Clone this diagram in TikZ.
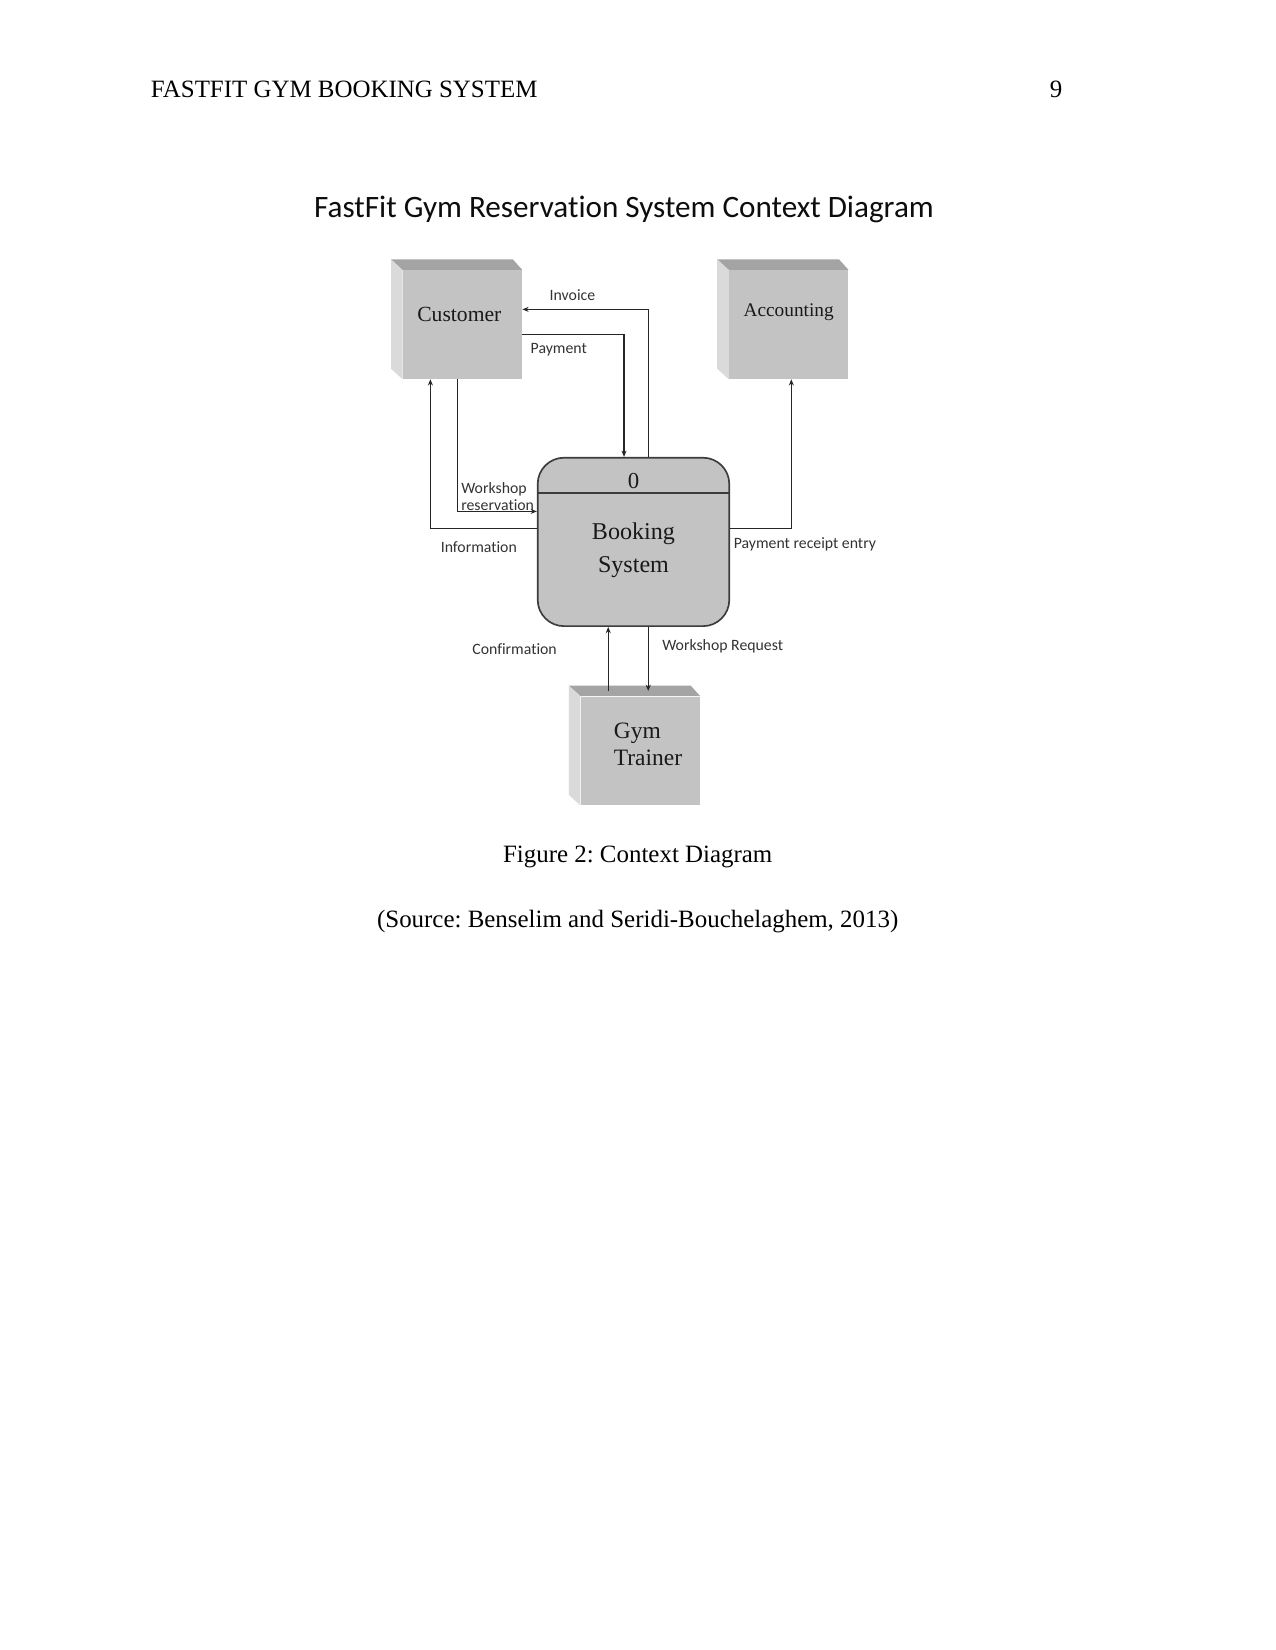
\documentclass[tikz,border=0pt,12pt]{standalone}
\usepackage{fontspec}
\setmainfont{Liberation Serif}
\newfontfamily\labelfont[Ligatures=NoCommon]{Carlito}
\usepackage{xcolor}
\usetikzlibrary{arrows.meta}
\frenchspacing
\definecolor{frontgray}{HTML}{C3C3C3}
\definecolor{topgray}{HTML}{A4A4A4}
\definecolor{sidegray}{HTML}{DADADA}
\definecolor{edgegray}{HTML}{3C3C3C}
\tikzset{
  entity/.style={rectangle,fill=frontgray,inner sep=0pt,minimum width=2.013cm,minimum height=1.835cm},
  topface/.style={fill=topgray},
  sideface/.style={fill=sidegray},
  process/.style={rectangle,rounded corners=0.445cm,draw=edgegray,line width=0.8pt,fill=frontgray,minimum width=3.242cm,minimum height=2.850cm},
  flow/.style={draw=black!85,line width=0.55pt,-{Stealth[length=3pt,width=2.4pt]}},
  flowlabel/.style={font=\labelfont\fontsize{7.6}{8.1}\selectfont,text=black!80,inner sep=0pt},
  boxtext/.style={text=black!90,inner sep=0pt}
}

\begin{document}
\begin{tikzpicture}[x=0.0178135cm,y=-0.0178135cm]
\useasboundingbox (0,0) rectangle (1212,1568);
% header and title
\node[anchor=base west,inner sep=0pt,font=\fontsize{12}{14}\selectfont] (head) at (143,93) {FASTFIT GYM BOOKING SYSTEM};
\node[anchor=base east,inner sep=0pt,font=\fontsize{12}{14}\selectfont] (pagenum) at (1010,93) {9};
\node[font=\labelfont\fontsize{15}{18}\selectfont,text=black!95,inner sep=0pt] (title) at (593,199) {FastFit Gym Reservation System Context Diagram};

% external entities
\node[entity] (cust) at (439.5,308.5) {};
\fill[topface] (cust.north west) -- ++(-11,-10) -- ([shift={(-9,-10)}]cust.north east) -- (cust.north east) -- cycle;
\fill[sideface] (cust.north west) -- ++(-11,-10) -- ([shift={(-11,-10)}]cust.south west) -- (cust.south west) -- cycle;
\node[boxtext,font=\fontsize{10.4}{12}\selectfont] (custname) at ([shift={(-3,-10)}]cust.center) {Customer};

\node[entity] (acct) at (749.5,308.5) {};
\fill[topface] (acct.north west) -- ++(-11,-10) -- ([shift={(-9,-10)}]acct.north east) -- (acct.north east) -- cycle;
\fill[sideface] (acct.north west) -- ++(-11,-10) -- ([shift={(-11,-10)}]acct.south west) -- (acct.south west) -- cycle;
\node[boxtext,font=\fontsize{9.3}{11}\selectfont] (acctname) at ([shift={(0,-12)}]acct.center) {Accounting};

\node[entity] (gym) at (608.5,713.5) {};
\fill[topface] (gym.north west) -- ++(-11,-10) -- ([shift={(-9,-10)}]gym.north east) -- (gym.north east) -- cycle;
\fill[sideface] (gym.north west) -- ++(-11,-10) -- ([shift={(-11,-10)}]gym.south west) -- (gym.south west) -- cycle;
\node[boxtext,anchor=west,align=left,font=\fontsize{11.3}{13}\selectfont] (gymname) at (583,707) {Gym\\Trainer};

% the process
\node[process] (bs) at (602,515) {};
\draw[edgegray,line width=0.8pt] (bs.north west) ++(0,34) coordinate (divl) -- (divl -| bs.east);
\node[boxtext,font=\fontsize{11}{13}\selectfont] (bsnum) at (602,457) {0};
\node[boxtext,align=center,font=\fontsize{11.6}{16}\selectfont] (bsname) at (602,523) {Booking\\System};

% data flows
\draw[flow] ([shift={(14,0)}]bs.north) |- ([shift={(0,-14.5)}]cust.east);
\node[flowlabel] (invoice) at (544,280) {Invoice};
\draw[flow] ([shift={(0,9.5)}]cust.east) -| ([shift={(-9,0)}]bs.north);
\node[flowlabel] (payment) at (531,332) {Payment};
\draw[flow] ([shift={(0,-13)}]bs.west) -| ([shift={(-30.5,0)}]cust.south);
\node[flowlabel] (info) at (455,520) {Information};
\draw[flow] ([shift={(-4.5,0)}]cust.south) |- ([shift={(0,-29)}]bs.west);
\node[flowlabel,anchor=west,align=left] (wsres) at (438,472) {Workshop\\reservation};
\draw[flow] ([shift={(0,-13)}]bs.east) -| ([shift={(2.5,0)}]acct.south);
\node[flowlabel,anchor=west] (receipt) at (697,517) {Payment receipt entry};
\draw[flow] ([shift={(-30.5,-5)}]gym.north) -- ([shift={(-24,0)}]bs.south);
\node[flowlabel] (confirm) at (489,617) {Confirmation};
\draw[flow] ([shift={(14,0)}]bs.south) -- ([shift={(7.5,-5)}]gym.north);
\node[flowlabel,anchor=west] (wsreq) at (629,614) {Workshop Request};

% caption
\node[anchor=base,inner sep=0pt,font=\fontsize{12}{14}\selectfont] (caption) at (606,820) {Figure 2: Context Diagram};
\node[anchor=base,inner sep=0pt,font=\fontsize{12}{14}\selectfont] (source) at (606,881) {(Source: Benselim and Seridi-Bouchelaghem, 2013)};
\end{tikzpicture}
\end{document}
